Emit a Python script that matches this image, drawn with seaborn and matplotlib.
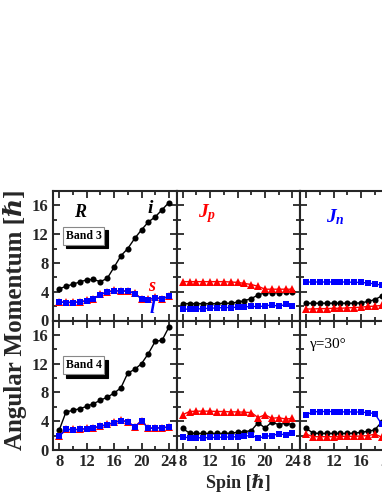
import matplotlib
matplotlib.use("Agg")
import matplotlib.pyplot as plt
from matplotlib.ticker import MultipleLocator
import seaborn as sns

# spin values (hbar)
spins = list(range(8, 25))

# Band 3, R components
r3_i = [4.4, 4.75, 5.05, 5.35, 5.65, 5.7, 5.4, 5.85, 7.4, 9.0, 10.0, 11.4, 12.6, 13.7, 14.4, 15.4, 16.4]
r3_s = [2.6, 2.55, 2.55, 2.6, 2.8, 3.05, 3.65, 4.0, 4.2, 4.1, 4.15, 3.8, 3.05, 2.95, 3.2, 3.05, 3.4]
r3_l = [2.55, 2.5, 2.5, 2.55, 2.75, 3.0, 3.6, 3.95, 4.15, 4.05, 4.1, 3.75, 3.0, 2.9, 3.15, 3.0, 3.35]

# Band 3, Jp components
jp3_i = [2.35, 2.35, 2.35, 2.35, 2.35, 2.35, 2.4, 2.4, 2.55, 2.75, 3.05, 3.55, 3.85, 3.85, 3.85, 3.9, 3.9]
jp3_s = [5.4, 5.4, 5.4, 5.4, 5.4, 5.4, 5.4, 5.35, 5.3, 5.15, 5.0, 4.75, 4.35, 4.35, 4.35, 4.35, 4.35]
jp3_l = [1.55, 1.6, 1.6, 1.65, 1.7, 1.75, 1.8, 1.8, 1.85, 1.9, 1.95, 1.95, 2.0, 2.2, 1.95, 2.25, 1.95]

# Band 3, Jn components
jn3_i = [2.4, 2.4, 2.4, 2.4, 2.4, 2.4, 2.4, 2.4, 2.45, 2.65, 2.9, 3.4, 3.8, 3.85, 3.9, 3.9, 3.9]
jn3_s = [1.6, 1.6, 1.65, 1.65, 1.7, 1.7, 1.75, 1.8, 1.85, 1.95, 2.0, 2.1, 2.1, 2.2, 2.1, 2.2, 2.1]
jn3_l = [5.35, 5.35, 5.35, 5.35, 5.35, 5.35, 5.35, 5.3, 5.3, 5.2, 5.1, 4.9, 4.5, 4.4, 4.4, 4.4, 4.4]

# Band 4, R components
r4_i = [2.75, 5.3, 5.5, 5.75, 6.05, 6.45, 6.9, 7.35, 7.9, 8.65, 10.7, 11.2, 12.0, 13.4, 15.1, 15.25, 17.1]
r4_s = [1.95, 2.9, 2.85, 2.9, 3.0, 3.1, 3.35, 3.55, 3.85, 4.15, 3.95, 3.25, 4.1, 3.05, 3.1, 3.1, 3.25]
r4_l = [1.9, 2.85, 2.8, 2.85, 2.95, 3.05, 3.3, 3.5, 3.8, 4.1, 3.9, 3.2, 4.05, 3.0, 3.05, 3.05, 3.2]

# Band 4, Jp components
jp4_i = [3.0, 2.35, 2.3, 2.3, 2.3, 2.3, 2.3, 2.35, 2.45, 2.55, 2.7, 3.8, 3.05, 3.9, 3.5, 3.75, 3.5]
jp4_s = [4.9, 5.35, 5.4, 5.4, 5.4, 5.35, 5.35, 5.3, 5.3, 5.25, 5.2, 4.5, 4.9, 4.4, 4.5, 4.3, 4.4]
jp4_l = [1.8, 1.7, 1.7, 1.7, 1.75, 1.75, 1.8, 1.8, 1.85, 1.9, 2.05, 1.65, 1.9, 2.0, 2.25, 2.1, 2.4]

# Band 4, Jn components
jn4_i = [3.0, 2.35, 2.3, 2.3, 2.3, 2.3, 2.3, 2.35, 2.45, 2.6, 2.8, 3.9, 3.1, 3.9, 3.5, 3.7, 3.5]
jn4_s = [2.2, 1.85, 1.85, 1.85, 1.85, 1.9, 1.9, 1.9, 1.95, 2.0, 2.2, 1.8, 2.1, 2.1, 2.3, 2.2, 2.4]
jn4_l = [4.9, 5.3, 5.35, 5.35, 5.35, 5.3, 5.3, 5.3, 5.25, 5.2, 5.05, 3.6, 4.6, 4.2, 4.4, 4.3, 4.3]

sns.set_style("ticks")
plt.rcParams["font.family"] = ["Liberation Serif", "DejaVu Serif"]
plt.rcParams["font.weight"] = "bold"
plt.rcParams["mathtext.fontset"] = "custom"
plt.rcParams["mathtext.rm"] = "Liberation Serif:bold"
plt.rcParams["mathtext.it"] = "Liberation Serif:italic:bold"

W, H = 382, 494
fig = plt.figure(figsize=(W / 100, H / 100), dpi=100)

x0, pw = 53, 123.5
row_bottoms = [320.5, 450]   # pixel y of bottom edge of each row
ph = 129.5

panels = [
    [(r3_i, r3_s, r3_l), (jp3_i, jp3_s, jp3_l), (jn3_i, jn3_s, jn3_l)],
    [(r4_i, r4_s, r4_l), (jp4_i, jp4_s, jp4_l), (jn4_i, jn4_s, jn4_l)],
]

axes = {}
for row in range(2):
    for col in range(3):
        left = (x0 + col * pw) / W
        bottom = (H - row_bottoms[row]) / H
        ax = fig.add_axes([left, bottom, pw / W, ph / H])
        axes[(row, col)] = ax
        i_vals, s_vals, l_vals = panels[row][col]
        sns.lineplot(x=spins, y=i_vals, ax=ax, color="black", marker="o",
                     markersize=4.4, linewidth=1, markeredgewidth=0)
        sns.lineplot(x=spins, y=s_vals, ax=ax, color="red", marker="^",
                     markersize=5.2, linewidth=1, markeredgewidth=0)
        sns.lineplot(x=spins, y=l_vals, ax=ax, color="blue", marker="s",
                     markersize=4, linewidth=1, markeredgewidth=0)
        ax.set_xlim(7.1, 25.1)
        ax.set_ylim(0, 18)
        ax.xaxis.set_major_locator(MultipleLocator(4))
        ax.xaxis.set_minor_locator(MultipleLocator(2))
        ax.yaxis.set_major_locator(MultipleLocator(4))
        ax.yaxis.set_minor_locator(MultipleLocator(2))
        ax.tick_params(which="both", direction="in", top=True, right=True,
                       width=1.3, labelsize=12, pad=3)
        ax.tick_params(which="major", length=5)
        ax.tick_params(which="minor", length=3)
        for sp in ax.spines.values():
            sp.set_linewidth(1.5)
        ax.set_xlabel("")
        ax.set_ylabel("")
        if col > 0:
            ax.set_yticklabels([])
        if row == 0:
            ax.set_xticklabels([])

# panel annotations
a = axes[(0, 0)]
a.text(11.0, 15.0, "R", color="black", fontsize=13, style="italic", fontweight="bold", ha="center", va="center")
a.text(21.3, 15.5, "i", color="black", fontsize=14, style="italic", fontweight="bold", ha="center", va="center")
a.text(21.5, 4.7, "s", color="red", fontsize=13, style="italic", fontweight="bold", ha="center", va="center")
a.text(21.5, 1.6, "l", color="blue", fontsize=14, style="italic", fontweight="bold", ha="center", va="center")

for row, label in [(0, "Band 3"), (1, "Band 4")]:
    ax = axes[(row, 0)]
    xy = (11.55, 11.8)
    ax.annotate(label, xy=xy, xytext=(2.5, -2.5), textcoords="offset points",
                ha="center", va="center", fontsize=8.5, fontweight="bold", color="black",
                bbox=dict(boxstyle="square,pad=0.25", fc="black", ec="black", lw=0.8))
    ax.annotate(label, xy=xy, xytext=(0, 0), textcoords="offset points",
                ha="center", va="center", fontsize=8.5, fontweight="bold", color="black",
                bbox=dict(boxstyle="square,pad=0.25", fc="white", ec="#888888", lw=0.8))

axes[(0, 1)].text(11.5, 14.9, r"$J_p$", color="red", fontsize=14, ha="center", va="center")
axes[(0, 2)].text(12.2, 14.4, r"$J_n$", color="blue", fontsize=14, ha="center", va="center")
axes[(1, 2)].text(11.3, 14.6, "γ=30°", color="black", fontsize=11, fontweight="normal",
                  ha="center", va="center")

fig.text(15 / W, (H - 320) / H, "Angular Momentum [ℏ]", rotation=90,
         ha="center", va="center", fontsize=18, fontweight="bold")
fig.text((x0 + pw + pw / 2) / W, (H - 483) / H, "Spin [ℏ]",
         ha="center", va="center", fontsize=13, fontweight="bold")

fig.savefig("out.png", dpi=100)
